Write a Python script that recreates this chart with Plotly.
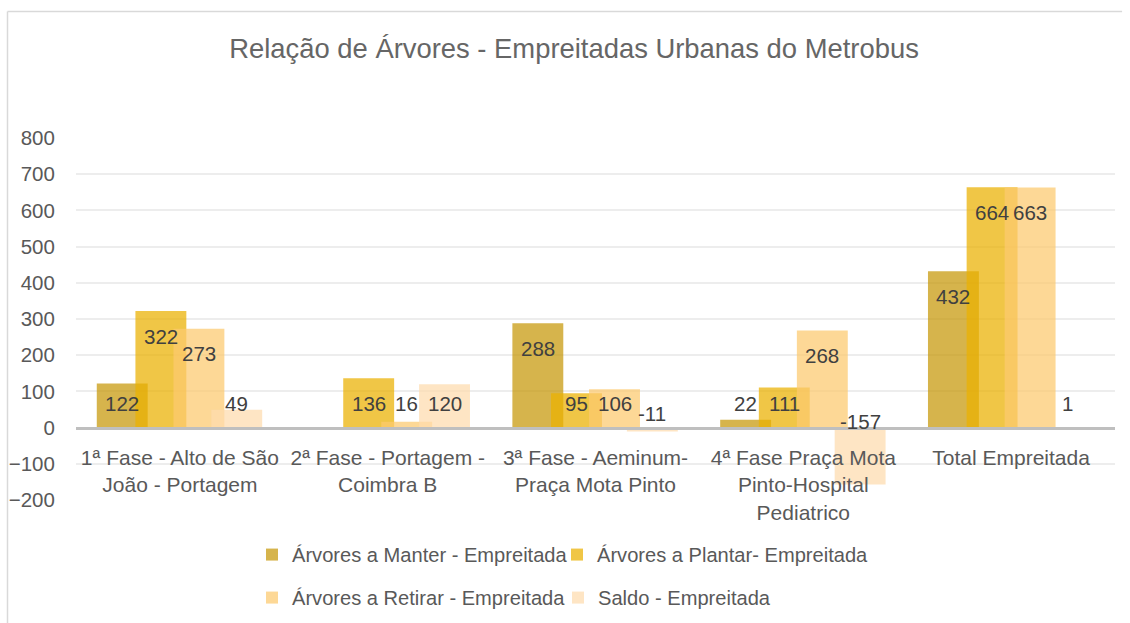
import plotly.graph_objects as go

categories = [
    "1ª Fase - Alto de São<br>João - Portagem",
    "2ª Fase - Portagem -<br>Coimbra B",
    "3ª Fase - Aeminum-<br>Praça Mota Pinto",
    "4ª Fase Praça Mota<br>Pinto-Hospital<br>Pediatrico",
    "Total Empreitada",
]
series_names = [
    "Árvores a Manter - Empreitada",
    "Árvores a Plantar- Empreitada",
    "Árvores a Retirar - Empreitada",
    "Saldo - Empreitada",
]
manter = [122, None, 288, 22, 432]
plantar = [322, 136, 95, 111, 664]
retirar = [273, 16, 106, 268, 663]
saldo = [49, 120, -11, -157, 1]
series_values = [manter, plantar, retirar, saldo]

colors = [
    "rgba(199,152,10,0.73)",
    "rgba(234,177,2,0.73)",
    "rgba(252,202,111,0.73)",
    "rgba(254,219,174,0.73)",
]
bar_width = 0.245
offsets = [-0.40, -0.214, -0.031, 0.151]
FONT = "Liberation Sans"
W, H = 1130, 623

fig = go.Figure()
legend_ids = ["legend", "legend2", "legend3", "legend4"]
for k, (name, vals) in enumerate(zip(series_names, series_values)):
    fig.add_trace(go.Bar(
        x=categories, y=vals,
        name=name, marker=dict(color=colors[k], line=dict(width=0)),
        width=bar_width, offset=offsets[k],
        legend=legend_ids[k], showlegend=True, hoverinfo="y",
    ))

# data labels
annotations = []
for k, vals in enumerate(series_values):
    for i, v in enumerate(vals):
        if v is None:
            continue
        if v >= 0:
            ly = max(v - 69, 66)
        else:
            ly = 40 + 0.14 * v
        annotations.append(dict(
            x=i + offsets[k] + bar_width / 2, y=ly, xref="x", yref="y",
            text=str(v), showarrow=False,
            font=dict(family=FONT, size=20.5, color="#404040"),
            xanchor="center", yanchor="middle",
        ))

# outer border (chart area frame)
bx, by = 7.5 / W, 1 - 11.5 / H
shapes = [
    dict(type="line", xref="paper", yref="paper", x0=bx, x1=bx, y0=by, y1=0,
         line=dict(color="#D9D9D9", width=1.5)),
    dict(type="line", xref="paper", yref="paper", x0=bx, x1=0.993, y0=by, y1=by,
         line=dict(color="#D9D9D9", width=1.5)),
]

legend_common = dict(orientation="h", font=dict(family=FONT, size=20.1, color="#595959"),
                     bgcolor="rgba(0,0,0,0)", xanchor="left", yanchor="middle",
                     itemwidth=30)

fig.update_layout(
    width=W, height=H,
    paper_bgcolor="white", plot_bgcolor="white",
    margin=dict(l=0, r=0, t=0, b=0),
    barmode="overlay",
    showlegend=True,
    title=dict(text="Relação de Árvores - Empreitadas Urbanas do Metrobus",
               x=0.508, xref="container", xanchor="center",
               y=1 - 48 / H, yref="container", yanchor="middle",
               font=dict(family=FONT, size=27.4, color="#666666")),
    xaxis=dict(type="category", range=[-0.5, 4.5], domain=[76 / W, 1115 / W],
               anchor="free", position=1 - 428 / H,
               showline=True, linecolor="#BFBFBF", linewidth=2.5,
               showgrid=False, ticks="outside", ticklen=10, tickcolor="rgba(0,0,0,0)",
               tickfont=dict(family=FONT, size=21, color="#595959"), automargin=False),
    yaxis=dict(range=[-200, 800], dtick=100, tick0=0, domain=[1 - 500 / H, 1 - 138 / H],
               showgrid=True, gridcolor="#EDEDED", gridwidth=1.5, zeroline=False,
               ticks="outside", ticklen=16, tickcolor="rgba(0,0,0,0)",
               tickfont=dict(family=FONT, size=20.5, color="#595959"), automargin=False),
    annotations=annotations,
    shapes=shapes,
    legend=dict(x=252 / W, y=1 - 555 / H, **legend_common),
    legend2=dict(x=557 / W, y=1 - 555 / H, **legend_common),
    legend3=dict(x=252 / W, y=1 - 598 / H, **legend_common),
    legend4=dict(x=558 / W, y=1 - 598 / H, **legend_common),
)

fig.write_html("out.html", config={"displayModeBar": False},
               post_script="document.body.style.margin='0';document.body.style.overflow='hidden';")
